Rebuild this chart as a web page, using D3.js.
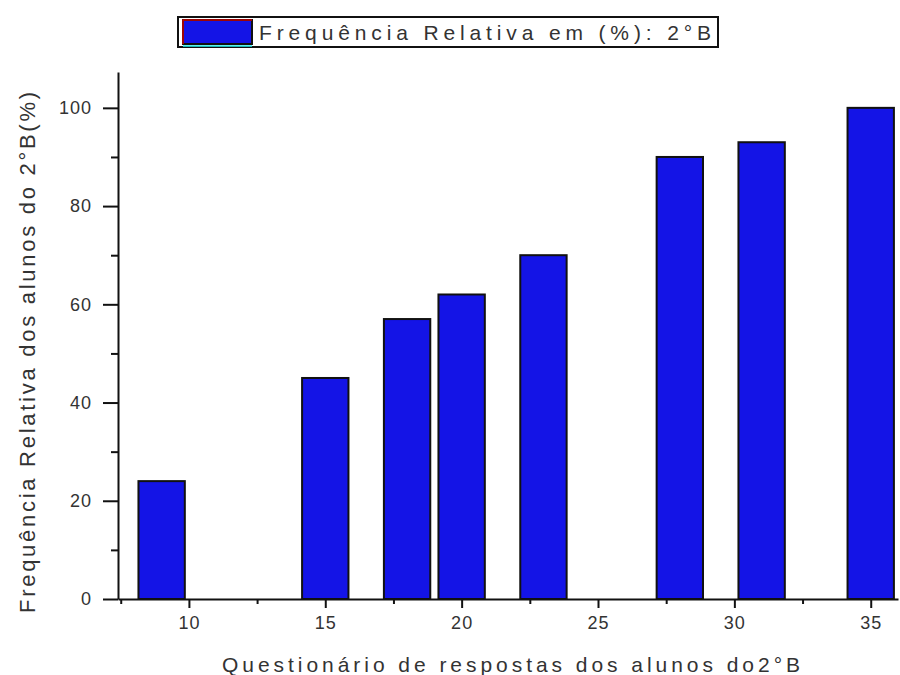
<!doctype html>
<html lang="pt">
<head>
  <meta charset="utf-8">
  <title>Frequência Relativa 2°B</title>
  <script src="https://cdn.jsdelivr.net/npm/d3@7"></script>
  <style>
    body { margin: 0; background: #fff; }
    svg { display: block; font-family: "Liberation Sans", Arial, sans-serif; }
    .axis path, .axis line { stroke: #111; stroke-width: 2; }
    .axis text { fill: #333; font-size: 18px; letter-spacing: 1px; }
  </style>
</head>
<body>
<div id="chart"></div>
<script>
  // data
  const questoes = [9, 15, 18, 20, 23, 28, 31, 35];
  const frequencia = [24, 45, 57, 62, 70, 90, 93, 100];
  const xMajor = [10, 15, 20, 25, 30, 35];
  const xMinor = [7.5, 12.5, 17.5, 22.5, 27.5, 32.5];
  const yMajor = [0, 20, 40, 60, 80, 100];
  const yMinor = [10, 30, 50, 70, 90];
  const legendLabel = 'Frequência Relativa em (%): 2°B';
  const xTitle = 'Questionário de respostas dos alunos do2°B';
  const yTitle = 'Frequência Relativa dos alunos do  2°B(%)';

  const w = 900, h = 675;
  const barW = 1.7;

  const svg = d3.select('#chart')
    .append('svg')
      .attr('width', w)
      .attr('height', h);

  const x = d3.scaleLinear()
    .domain([7.4, 36.0])
    .range([118, 898]);

  const y = d3.scaleLinear()
    .domain([0, 107.3])
    .range([599, 72]);

  // bars
  svg.selectAll('.bar')
    .data(questoes)
    .enter()
    .append('rect')
      .attr('class', 'bar')
      .attr('x', (d) => x(d - barW / 2))
      .attr('y', (d, i) => y(frequencia[i]))
      .attr('width', (d) => x(d + barW / 2) - x(d - barW / 2))
      .attr('height', (d, i) => y(0) - y(frequencia[i]))
      .attr('fill', '#1414e6')
      .attr('stroke', '#111')
      .attr('stroke-width', 2);

  // minor ticks
  svg.append('g')
    .attr('class', 'axis')
    .attr('transform', 'translate(0,' + y(0) + ')')
    .call(d3.axisBottom(x).tickValues(xMinor).tickSize(5).tickFormat(''))
    .select('.domain').remove();

  svg.append('g')
    .attr('class', 'axis')
    .attr('transform', 'translate(' + x.range()[0] + ',0)')
    .call(d3.axisLeft(y).tickValues(yMinor).tickSize(7).tickFormat(''))
    .select('.domain').remove();

  // major axes
  svg.append('g')
    .attr('class', 'axis')
    .attr('transform', 'translate(0,' + y(0) + ')')
    .call(d3.axisBottom(x).tickValues(xMajor).tickSize(9).tickSizeOuter(0).tickPadding(8));

  svg.append('g')
    .attr('class', 'axis')
    .attr('transform', 'translate(' + x.range()[0] + ',0)')
    .call(d3.axisLeft(y).tickValues(yMajor).tickSize(15).tickSizeOuter(0).tickPadding(11));

  // axis titles
  svg.append('text')
    .attr('x', 222)
    .attr('y', 672)
    .attr('textLength', 578)
    .attr('lengthAdjust', 'spacing')
    .style('font-size', '21px')
    .style('fill', '#333')
    .text(xTitle);

  svg.append('text')
    .attr('transform', 'translate(35,' + 613 + ') rotate(-90)')
    .attr('textLength', 521)
    .attr('lengthAdjust', 'spacing')
    .style('font-size', '22px')
    .style('fill', '#333')
    .text(yTitle);

  // legend
  const lg = svg.append('g');
  lg.append('rect')
    .attr('x', 178).attr('y', 17)
    .attr('width', 540).attr('height', 30)
    .attr('fill', '#fff')
    .attr('stroke', '#111')
    .attr('stroke-width', 2);
  lg.append('rect')
    .attr('x', 183).attr('y', 20)
    .attr('width', 69).attr('height', 24)
    .attr('fill', '#1414e6')
    .attr('stroke', '#111')
    .attr('stroke-width', 2);
  lg.append('path')
    .attr('d', 'M183,44 V20 H252')
    .attr('fill', 'none')
    .attr('stroke', '#c00')
    .attr('stroke-width', 1.5);
  lg.append('line')
    .attr('x1', 183).attr('x2', 252)
    .attr('y1', 46).attr('y2', 46)
    .attr('stroke', '#2ee')
    .attr('stroke-width', 1.5);
  lg.append('text')
    .attr('x', 259)
    .attr('y', 40)
    .attr('textLength', 452)
    .attr('lengthAdjust', 'spacing')
    .style('font-size', '21px')
    .style('fill', '#333')
    .text(legendLabel);
</script>
</body>
</html>
